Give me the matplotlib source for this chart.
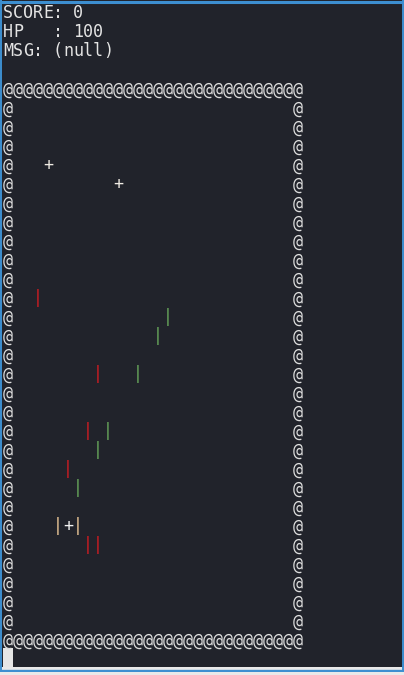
import matplotlib
matplotlib.use("Agg")
import matplotlib.pyplot as plt
from matplotlib.patches import Rectangle

# terminal content
status_lines = ["SCORE: 0", "HP   : 100", "MSG: (null)"]
field_w = 30
field_h = 30          # border rows included
field_top = 4         # terminal row of the top wall
wall_char = "@"

food_cols = [4, 11]
food_rows = [8, 9]

red_cols = [3, 9, 8, 6, 8, 9]
red_rows = [15, 19, 22, 24, 28, 28]

green_cols = [16, 15, 13, 10, 9, 7]
green_rows = [16, 17, 19, 22, 23, 25]

player_col = 6
player_row = 27
player_text = "|+|"

cursor_col = 0
cursor_row = 34

bg = "#21232b"
fg = "#e4e4e4"

fig = plt.figure(figsize=(4.04, 6.75), dpi=100)
fig.patch.set_facecolor("#e9e9e9")
ax = fig.add_axes([0, 0, 1, 1])
ax.set_facecolor(bg)
# col c -> x = 8 + 10c, row r -> y = 12 + 19r (pixels)
ax.set_xlim(-0.8, 39.6)
ax.set_ylim(34.895, -0.632)
ax.axis("off")

# window background + blue frame
ax.add_patch(Rectangle((-0.8, -0.632), 40.4, 35.1, facecolor=bg, edgecolor="none", zorder=0))
ax.plot([-0.8, 39.6], [-0.55, -0.55], color="#3d8fd1", lw=2.2, zorder=1)
ax.plot([-0.74, -0.74], [-0.632, 34.65], color="#3d8fd1", lw=1.4, zorder=1)
ax.plot([39.52, 39.52], [-0.632, 34.65], color="#3d8fd1", lw=1.4, zorder=1)
ax.plot([-0.8, 39.6], [34.69, 34.69], color="#3d8fd1", lw=2.4, zorder=1)
ax.add_patch(Rectangle((-0.8, 34.76), 40.4, 0.2, facecolor="#e9e9e9", edgecolor="none", zorder=1))

font = dict(family="DejaVu Sans Mono", fontsize=12, ha="center", va="center")


def put(col, row, ch, color=fg):
    ax.text(col, row + 0.07, ch, color=color, **font)


for r, line in enumerate(status_lines):
    for c, ch in enumerate(line):
        if ch != " ":
            put(c, r, ch)

for c in range(field_w):
    put(c, field_top, wall_char, "#dcdcdc")
    put(c, field_top + field_h - 1, wall_char, "#dcdcdc")
for r in range(field_top + 1, field_top + field_h - 1):
    put(0, r, wall_char, "#dcdcdc")
    put(field_w - 1, r, wall_char, "#dcdcdc")

for c, r in zip(food_cols, food_rows):
    put(c, r, "+", "#f0ece4")

for c, r in zip(red_cols, red_rows):
    put(c, r, "|", "#d01c22")

for c, r in zip(green_cols, green_rows):
    put(c, r, "|", "#68a85c")

for i, ch in enumerate(player_text):
    put(player_col - 1 + i, player_row, ch, "#ecc898" if ch == "|" else "#f2f2f2")

ax.add_patch(Rectangle((cursor_col - 0.5, cursor_row - 0.5), 1.0, 1.0,
                       facecolor="#e6e6e6", edgecolor="none", zorder=2))

fig.savefig("out.png", dpi=100, facecolor=fig.get_facecolor())
